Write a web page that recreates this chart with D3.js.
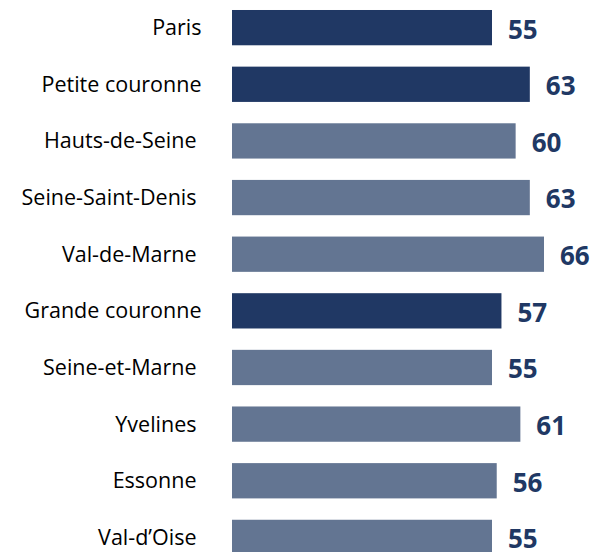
<!DOCTYPE html>
<html>
<head>
<meta charset="utf-8">
<script src="https://cdn.jsdelivr.net/npm/d3@7"></script>
<style>
  body { margin: 0; background: #fff; }
  text { font-family: "Open Sans", sans-serif; }
</style>
</head>
<body>
<div id="chart"></div>
<script>
const categories = ["Paris", "Petite couronne", "Hauts-de-Seine", "Seine-Saint-Denis", "Val-de-Marne",
  "Grande couronne", "Seine-et-Marne", "Yvelines", "Essonne", "Val-d\u2019Oise"];
const values = [55, 63, 60, 63, 66, 57, 55, 61, 56, 55];
// true = regroupement (barre foncée), false = département
const isGroup = [true, true, false, false, false, true, false, false, false, false];

const width = 595, height = 552;
const dark = "#203864", light = "#637592";

const svg = d3.select("#chart")
  .append("svg")
    .attr("width", width)
    .attr("height", height);

const x = d3.scaleLinear()
  .domain([0, 66])
  .range([232, 544]);

const step = 56.64;
const y = d3.scaleBand()
  .domain(categories)
  .range([-0.68, -0.68 + step * categories.length])
  .paddingInner(0.377)
  .paddingOuter(0.1885);

const rows = categories.map((c, i) => ({ name: c, value: values[i], group: isGroup[i] }));

svg.selectAll("rect")
  .data(rows)
  .enter().append("rect")
    .attr("x", x(0))
    .attr("y", d => y(d.name))
    .attr("width", d => x(d.value) - x(0))
    .attr("height", y.bandwidth())
    .attr("fill", d => d.group ? dark : light);

// category labels
svg.selectAll(".cat")
  .data(rows)
  .enter().append("text")
    .attr("class", "cat")
    .attr("x", d => d.group ? 201.5 : 196.5)
    .attr("y", d => y(d.name) + y.bandwidth() / 2)
    .attr("dy", "0.35em")
    .attr("text-anchor", "end")
    .attr("font-size", 21.5)
    .attr("fill", "#000")
    .text(d => d.name);

// value labels
svg.selectAll(".val")
  .data(rows)
  .enter().append("text")
    .attr("class", "val")
    .attr("x", d => x(d.value) + 16)
    .attr("y", d => y(d.name) + y.bandwidth() / 2 + 1.5)
    .attr("dy", "0.36em")
    .attr("font-size", 26)
    .attr("font-weight", "bold")
    .attr("fill", dark)
    .text(d => d.value);
</script>
</body>
</html>
